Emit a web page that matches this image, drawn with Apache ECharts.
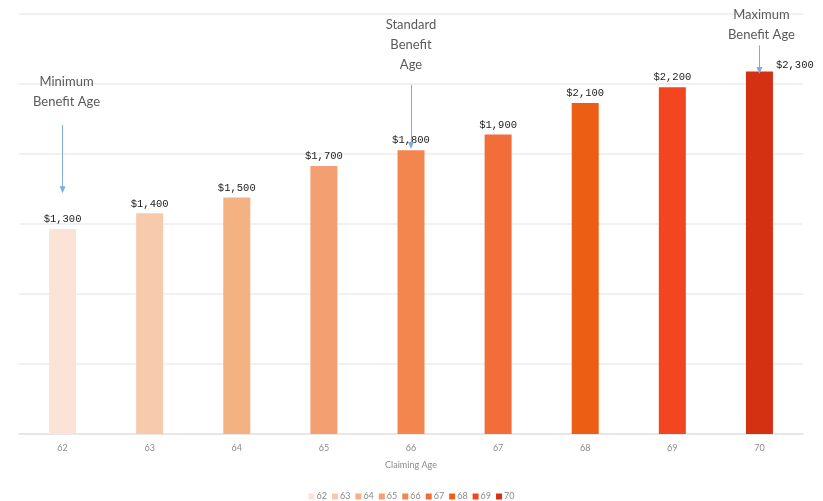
<!DOCTYPE html>
<html>
<head>
<meta charset="utf-8">
<script src="https://cdn.jsdelivr.net/npm/echarts@6/dist/echarts.min.js"></script>
<style>
  html, body { margin: 0; padding: 0; background: #ffffff; }
  #chart { width: 823px; height: 501px; }
</style>
</head>
<body>
<div id="chart"></div>
<script>
// Monthly benefit by claiming age
const ages = ['62', '63', '64', '65', '66', '67', '68', '69', '70'];
const benefits = [1300, 1400, 1500, 1700, 1800, 1900, 2100, 2200, 2300];
const barColors = ['#FBE4D5', '#F8CAAC', '#F4B182', '#F49F71', '#F3864F', '#F36D3B', '#EC5E13', '#F44521', '#D43112'];

// Callouts: category, text, and the value range the arrow spans
const calloutAges = ['62', '66', '70'];
const calloutTexts = ['Minimum\nBenefit Age', 'Standard\nBenefit\nAge', 'Maximum\nBenefit Age'];
const calloutFrom = [1960, 2215, 2465];
const calloutTo = [1550, 1830, 2305];

// Caption placement relative to each arrow's top
const calloutGap = [13, 10, 1];
const calloutShift = [4, 0, 2];

const axisMax = 2664;
const axisStep = 444;

const labelFont = {
  fontFamily: '"Liberation Mono", "DejaVu Sans Mono", monospace',
  fontSize: 10.5,
  color: '#1a1a1a'
};

const series = ages.map((age, i) => {
  const data = ages.map((a, j) => (j === i ? benefits[i] : null));
  const isLast = i === ages.length - 1;
  return {
    name: age,
    type: 'bar',
    stack: 'benefit',
    barWidth: 27,
    itemStyle: { color: barColors[i] },
    label: {
      show: true,
      position: isLast ? ['100%', 0] : 'top',
      offset: isLast ? [3, -6] : [0, 1],
      align: isLast ? 'left' : 'center',
      verticalAlign: isLast ? 'middle' : 'bottom',
      formatter: p => '$' + p.value.toLocaleString('en-US'),
      ...labelFont
    },
    data: data
  };
});

// Callout arrows and their captions
series.push({
  name: 'callouts',
  type: 'line',
  data: [],
  silent: true,
  markLine: {
    silent: true,
    symbol: ['none', 'triangle'],
    symbolSize: [6, 7],
    lineStyle: { color: '#7FACDD', width: 1, type: 'solid' },
    label: {
      show: true,
      position: 'start',
      fontFamily: 'Lato, "Open Sans", sans-serif',
      fontSize: 13,
      lineHeight: 20,
      color: '#5a5a5a',
      align: 'center'
    },
    data: calloutAges.map((age, i) => [
      {
        coord: [age, calloutFrom[i]],
        label: {
          formatter: calloutTexts[i],
          distance: calloutGap[i],
          offset: [calloutShift[i], 0]
        }
      },
      { coord: [age, calloutTo[i]] }
    ])
  }
});

const chart = echarts.init(document.getElementById('chart'), null, { renderer: 'canvas' });
chart.setOption({
  animation: false,
  backgroundColor: '#ffffff',
  grid: { left: 19, right: 20, top: 14, bottom: 67, containLabel: false },
  legend: {
    data: ages,
    top: 487,
    left: 'center',
    itemWidth: 6,
    itemHeight: 6,
    itemGap: 5,
    icon: 'rect',
    textStyle: { fontSize: 9, color: '#8a8a8a', fontFamily: 'Lato, sans-serif', padding: [0, 0, 0, -3] }
  },
  xAxis: {
    type: 'category',
    data: ages,
    name: 'Claiming Age',
    nameLocation: 'middle',
    nameGap: 27,
    nameTextStyle: { fontSize: 9, color: '#8a8a8a', fontFamily: 'Lato, sans-serif' },
    axisLine: { lineStyle: { color: '#e3e3e3', width: 1.5 } },
    axisTick: { show: false },
    axisLabel: { fontSize: 9, color: '#8a8a8a', margin: 10, fontFamily: 'Lato, sans-serif' }
  },
  yAxis: {
    type: 'value',
    min: 0,
    max: axisMax,
    interval: axisStep,
    axisLine: { show: false },
    axisTick: { show: false },
    axisLabel: { show: false },
    splitLine: { lineStyle: { color: '#ececec', width: 1.5 } }
  },
  series: series
});
</script>
</body>
</html>
